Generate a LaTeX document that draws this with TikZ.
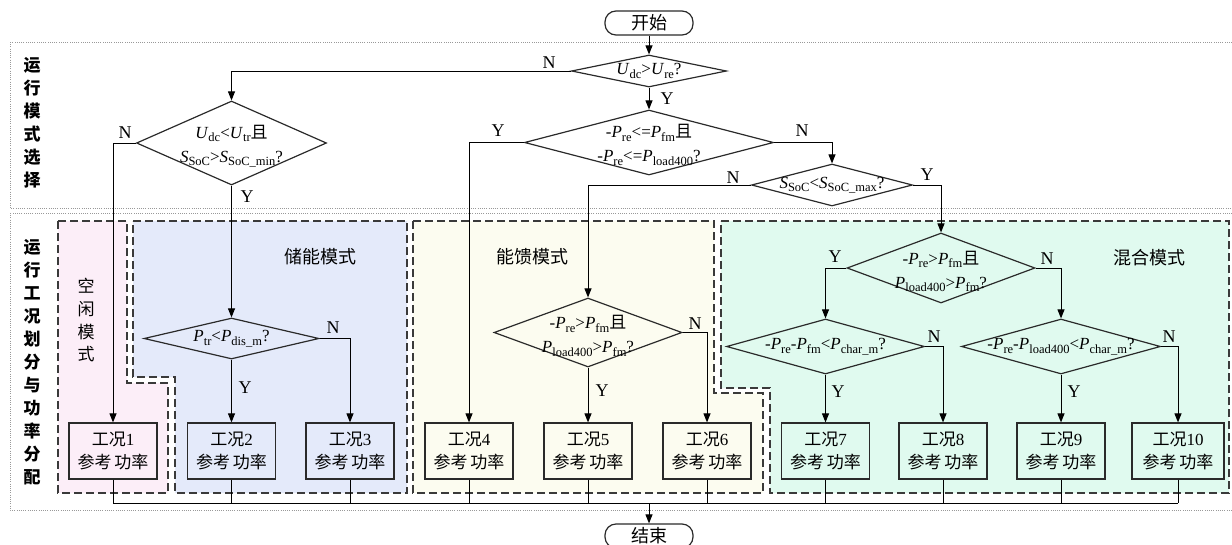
\documentclass[tikz,border=0pt]{standalone}
\usepackage{fontspec}
\setmainfont{Liberation Serif}
\newfontfamily\cjk{Noto Sans CJK SC}
\usetikzlibrary{shapes.geometric,arrows.meta}

\definecolor{idlefill}{HTML}{FCEEF8}
\definecolor{storefill}{HTML}{E4EAFA}
\definecolor{feedfill}{HTML}{FCFCF0}
\definecolor{mixfill}{HTML}{E0FAEF}
\definecolor{edge}{HTML}{2A2A2A}
\definecolor{zoneedge}{HTML}{3A3A3A}

% upright subscript, italic symbol with subscript, Chinese run
\newcommand\subtx[1]{\raisebox{-3.5pt}{\fontsize{12.5}{12.5}\selectfont #1}}
\newcommand\vsub[2]{\textit{#1}\subtx{#2}}
\newcommand\zhs[1]{{\cjk #1}}

\tikzset{
  frame/.style={draw=gray!80, line width=0.9pt, dash pattern=on 0.9pt off 1.3pt},
  zone/.style={draw=zoneedge, line width=1.3pt, dash pattern=on 8pt off 4pt},
  dia/.style 2 args={diamond, draw=edge, line width=1.2pt, inner sep=0pt,
    minimum width=#1, minimum height=#2},
  dtext/.style={font=\fontsize{17}{24}\selectfont, align=center, inner sep=0pt},
  casebox/.style={draw=edge, line width=1.2pt, minimum width=88pt, minimum height=56pt,
    inner sep=0pt, align=center, font=\fontsize{17}{23}\selectfont},
  term/.style={draw=edge, line width=1.2pt, rounded corners=11pt, minimum width=88pt,
    minimum height=24pt, inner sep=0pt, font=\fontsize{18}{18}\selectfont\cjk},
  conn/.style={draw=black, line width=1pt},
  arr/.style={conn, -{Triangle[length=9pt,width=7pt]}},
  yn/.style={font=\fontsize{18}{18}\selectfont, inner sep=0pt},
  modelab/.style={font=\fontsize{18}{20}\selectfont\cjk, inner sep=0pt},
  sidelab/.style={font=\fontsize{17}{23}\selectfont\cjk\bfseries, align=center, inner sep=0pt},
}

\begin{document}
\begin{tikzpicture}[x=1pt,y=-1pt]
\useasboundingbox (0,0) rectangle (1232,544);

% two dotted stage frames
\draw[frame] (10,42) rectangle (1236,208);
\draw[frame] (10,213) rectangle (1236,510);

% mode zones
\draw[zone, fill=idlefill] (58,221) -- (127,221) -- (127,383) -- (168,383) -- (168,493) -- (58,493) -- cycle;
\draw[zone, fill=storefill] (133,221) -- (407,221) -- (407,493) -- (175,493) -- (175,377) -- (133,377) -- cycle;
\draw[zone, fill=feedfill] (413,221) -- (714,221) -- (714,393) -- (763,393) -- (763,493) -- (413,493) -- cycle;
\draw[zone, fill=mixfill] (721,221) -- (1229,221) -- (1229,493) -- (770,493) -- (770,388) -- (721,388) -- cycle;

% side and mode labels
\node[sidelab] (side1) at (32,123) {运\\行\\模\\式\\选\\择};
\node[sidelab] (side2) at (32,362) {运\\行\\工\\况\\划\\分\\与\\功\\率\\分\\配};
\node[sidelab, font=\fontsize{17}{23}\selectfont\cjk] (idle) at (86,320) {空\\闲\\模\\式};
\node[modelab] (store) at (320,257) {储能模式};
\node[modelab] (feed) at (532,257) {能馈模式};
\node[modelab] (mix) at (1149,258) {混合模式};

% terminals
\node[term] (start) at (649,23) {开始};
\node[term] (end) at (649,536) {结束};

% decisions
\node[dia={155pt}{32pt}] (d1) at (649,71) {};
\node[dtext] (d1t) at (649,71) {\vsub{U}{dc}>\vsub{U}{re}?};

\node[dia={190pt}{84pt}] (d2) at (231.5,143) {};
\node[dtext] (d2t) at (231.5,146) {\vsub{U}{dc}<\vsub{U}{tr}\zhs{且}\\\vsub{S}{SoC}>\vsub{S}{SoC\_min}?};

\node[dia={175pt}{41pt}] (d3) at (231.5,338.5) {};
\node[dtext] (d3t) at (231.5,338.5) {\vsub{P}{tr}<\vsub{P}{dis\_m}?};

\node[dia={249pt}{65pt}] (d4) at (649,142.5) {};
\node[dtext] (d4t) at (649,145) {-\vsub{P}{re}<=\vsub{P}{fm}\zhs{且}\\-\vsub{P}{re}<=\vsub{P}{load400}?};

\node[dia={161pt}{42pt}] (d5) at (832,185) {};
\node[dtext] (d5t) at (832,185) {\vsub{S}{SoC}<\vsub{S}{SoC\_max}?};

\node[dia={188pt}{69pt}] (d6) at (588,332.5) {};
\node[dtext] (d6t) at (588,336) {-\vsub{P}{re}>\vsub{P}{fm}\zhs{且}\\\vsub{P}{load400}>\vsub{P}{fm}?};

\node[dia={188pt}{70pt}] (d7) at (941,268) {};
\node[dtext] (d7t) at (941,271.5) {-\vsub{P}{re}>\vsub{P}{fm}\zhs{且}\\\vsub{P}{load400}>\vsub{P}{fm}?};

\node[dia={198pt}{55pt}] (d8) at (825.5,346.5) {};
\node[dtext] (d8t) at (825.5,346.5) {-\vsub{P}{re}-\vsub{P}{fm}<\vsub{P}{char\_m}?};

\node[dia={199pt}{55pt}] (d9) at (1061,346.5) {};
\node[dtext] (d9t) at (1061,346.5) {-\vsub{P}{re}-\vsub{P}{load400}<\vsub{P}{char\_m}?};

% operating cases
\node[casebox] (b1) at (113,451) {\zhs{工况}1\\\zhs{参考}\,\zhs{功率}};
\node[casebox] (b2) at (231.5,451) {\zhs{工况}2\\\zhs{参考}\,\zhs{功率}};
\node[casebox] (b3) at (350,451) {\zhs{工况}3\\\zhs{参考}\,\zhs{功率}};
\node[casebox] (b4) at (469,451) {\zhs{工况}4\\\zhs{参考}\,\zhs{功率}};
\node[casebox] (b5) at (588,451) {\zhs{工况}5\\\zhs{参考}\,\zhs{功率}};
\node[casebox] (b6) at (707,451) {\zhs{工况}6\\\zhs{参考}\,\zhs{功率}};
\node[casebox] (b7) at (825.5,451) {\zhs{工况}7\\\zhs{参考}\,\zhs{功率}};
\node[casebox] (b8) at (943,451) {\zhs{工况}8\\\zhs{参考}\,\zhs{功率}};
\node[casebox] (b9) at (1061,451) {\zhs{工况}9\\\zhs{参考}\,\zhs{功率}};
\node[casebox, minimum width=92pt] (b10) at (1178,451) {\zhs{工况}10\\\zhs{参考}\,\zhs{功率}};

% flow
\draw[arr] (start) -- (d1);
\draw[arr] (d1.south) -- (d4.north);
\draw[arr] (d1.west) -| (d2.north);
\draw[arr] (d2.west) -| (b1.north);
\draw[arr] (d2.south) -- (d3.north);
\draw[arr] (d3.south) -- (b2.north);
\draw[arr] (d3.east) -| (b3.north);
\draw[arr] (d4.west) -| (b4.north);
\draw[arr] (d4.east) -| (d5.north);
\draw[arr] (d5.west) -| (d6.north);
\draw[arr] (d5.east) -| (d7.north);
\draw[arr] (d6.south) -- (b5.north);
\draw[arr] (d6.east) -| (b6.north);
\draw[arr] (d7.west) -| (d8.north);
\draw[arr] (d7.east) -| (d9.north);
\draw[arr] (d8.south) -- (b7.north);
\draw[arr] (d8.east) -| (b8.north);
\draw[arr] (d9.south) -- (b9.north);
\draw[arr] (d9.east) -| (b10.north);

% collecting bus to the end terminal
\coordinate (bus) at (649,503);
\draw[conn] (b1.south |- bus) -- (b10.south |- bus);
\foreach \b in {b1,b2,b3,b4,b5,b6,b7,b8,b9,b10}
  \draw[conn] (\b.south) -- (\b.south |- bus);
\draw[arr] (bus) -- (end.north);

% branch labels
\node[yn] (l1n) at (549,63) {N};
\node[yn] (l1y) at (667,99) {Y};
\node[yn] (l2n) at (125,133) {N};
\node[yn] (l2y) at (247,197) {Y};
\node[yn] (l3n) at (333,328) {N};
\node[yn] (l3y) at (245,388) {Y};
\node[yn] (l4y) at (498,131) {Y};
\node[yn] (l4n) at (802,131) {N};
\node[yn] (l5n) at (733,178) {N};
\node[yn] (l5y) at (927,175) {Y};
\node[yn] (l6n) at (695,324) {N};
\node[yn] (l6y) at (602,391) {Y};
\node[yn] (l7y) at (835,257) {Y};
\node[yn] (l7n) at (1047,259) {N};
\node[yn] (l8n) at (934,337) {N};
\node[yn] (l8y) at (838,392) {Y};
\node[yn] (l9n) at (1169,337) {N};
\node[yn] (l9y) at (1074,392) {Y};
\end{tikzpicture}
\end{document}
